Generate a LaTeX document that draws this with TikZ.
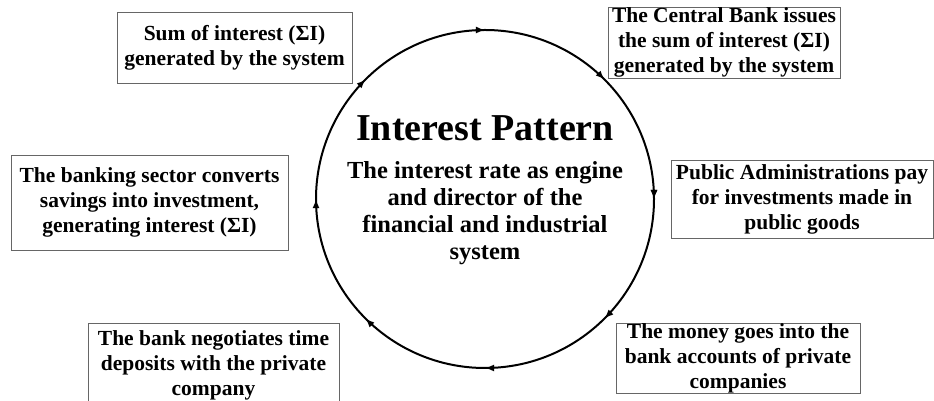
\documentclass[tikz,border=0pt]{standalone}
\usepackage{fontspec}
\setmainfont{Liberation Serif}
\usetikzlibrary{arrows.meta,decorations.markings}
\tikzset{
  box/.style={draw=black!60, line width=0.9pt, fill=white, align=center, inner sep=0pt,
    font=\bfseries\fontsize{21.5}{25}\selectfont},
  ring/.style={draw=black, line width=2pt, postaction={decorate},
    decoration={markings, mark=between positions 0 and 1 step 0.125 with {\arrowreversed{Latex[length=9pt,width=7pt]}}}}
}
\begin{document}
\begin{tikzpicture}[x=1pt,y=1pt]
\useasboundingbox[fill=white] (0,0) rectangle (934,401);
\coordinate (C) at (485,202);
\draw[ring] (C) circle (169pt);
\node[font=\bfseries\fontsize{38}{42}\selectfont] (title) at (485,273) {Interest Pattern};
\node[align=center, font=\bfseries\fontsize{24.5}{27}\selectfont] (sub) at (485,188)
  {The interest rate as engine\\and director of the\\financial and industrial\\system};
\node[box, minimum width=235pt, minimum height=71pt] (b1) at (234.5,353.5)
  {Sum of interest (ΣI)\\generated by the system};
\node[box, minimum width=232pt, minimum height=71pt] (b2) at (724,358.5)
  {The Central Bank issues\\the sum of interest (ΣI)\\generated by the system};
\node[box, minimum width=277pt, minimum height=95pt] (b3) at (149.5,198.5)
  {The banking sector converts\\savings into investment,\\generating interest (ΣI)};
\node[box, minimum width=262pt, minimum height=78pt] (b4) at (802,202)
  {Public Administrations pay\\for investments made in\\public goods};
\node[box, minimum width=251pt, minimum height=84pt] (b5) at (213.5,36)
  {The bank negotiates time\\deposits with the private\\company};
\node[box, minimum width=244pt, minimum height=70pt] (b6) at (738,43)
  {The money goes into the\\bank accounts of private\\companies};
\end{tikzpicture}
\end{document}
